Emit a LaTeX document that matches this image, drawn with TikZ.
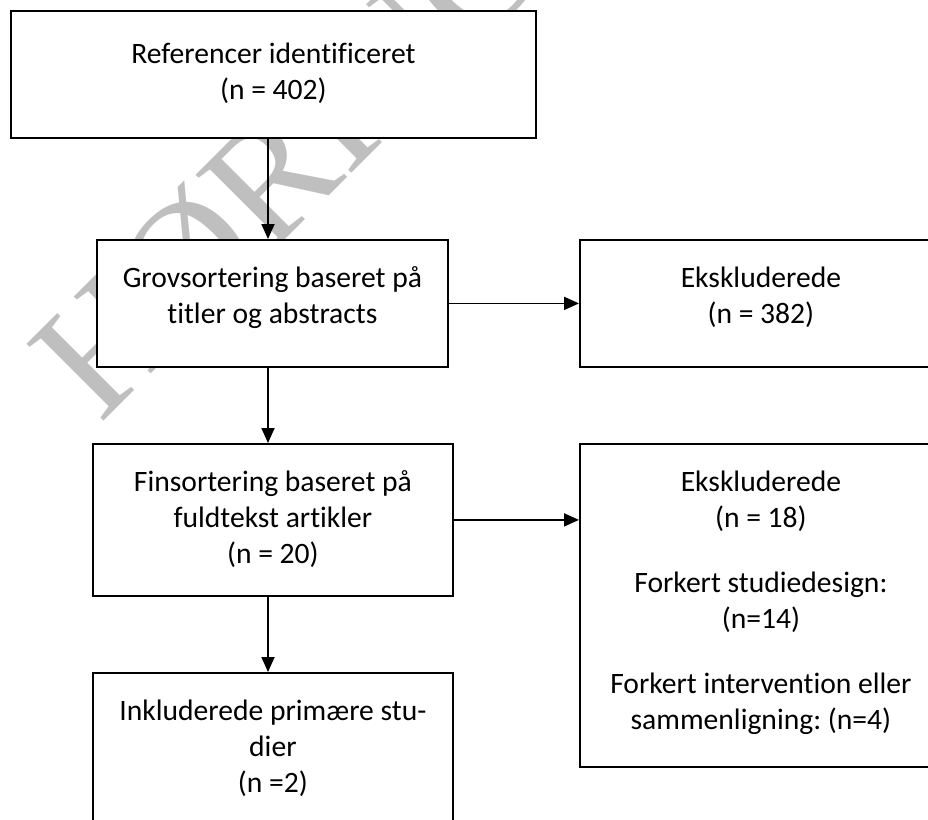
\documentclass[tikz,border=0pt]{standalone}
\usepackage{fontspec}
\setmainfont{Carlito}[Ligatures={NoCommon,NoContextual}]
\newfontfamily\wmfont{Liberation Serif}
\usetikzlibrary{arrows.meta}
\frenchspacing
\begin{document}
\begin{tikzpicture}[x=1pt,y=-1pt,
  box/.style={draw=black,line width=1.8pt,fill=white,inner sep=0pt,anchor=north west},
  txt/.style={align=center,inner sep=0pt,anchor=north,font=\fontsize{29.6}{36}\selectfont},
  arr/.style={line width=1.8pt,-{Triangle[length=15pt,width=13pt]}},
  wm/.style={text=black!25,font=\wmfont\fontsize{166}{166}\selectfont,rotate=45,anchor=base west,inner sep=0pt}]
\useasboundingbox (0,0) rectangle (928,819);
\clip (0,0) rectangle (928,819);
% watermark
\node[wm] (wmark) at (100,425) {HØRING};
% boxes
\node[box,minimum width=525pt,minimum height=127pt] (b1) at (10,10) {};
\node[box,minimum width=351pt,minimum height=127pt] (b2) at (96,239) {};
\node[box,minimum width=362pt,minimum height=127pt] (b3) at (579,239) {};
\node[box,minimum width=360pt,minimum height=152pt] (b4) at (92,443) {};
\node[box,minimum width=360pt,minimum height=180pt] (b5) at (92,672) {};
\node[box,minimum width=362pt,minimum height=323pt] (b6) at (579,443) {};
% texts
\node[txt] (t1) at ([yshift=-27pt]b1.north) {\rule{0pt}{26pt}Referencer identificeret\\(n = 402)};
\node[txt] (t2) at ([yshift=-22pt]b2.north) {\rule{0pt}{26pt}Grovsortering baseret på\\titler og abstracts};
\node[txt] (t3) at ([yshift=-22pt]b3.north) {\rule{0pt}{26pt}Ekskluderede\\(n = 382)};
\node[txt] (t4) at ([yshift=-22pt]b4.north) {\rule{0pt}{26pt}Finsortering baseret på\\fuldtekst artikler\\(n = 20)};
\node[txt] (t5) at ([yshift=-22pt]b5.north) {\rule{0pt}{26pt}Inkluderede primære stu-\\dier\\(n =2)};
\node[txt] (t6) at ([yshift=-22pt]b6.north) {\rule{0pt}{26pt}Ekskluderede\\(n = 18)\\[29pt]Forkert studiedesign:\\(n=14)\\[29pt]Forkert intervention eller\\sammenligning: (n=4)};
% connectors
\coordinate (ax) at (268,0);
\draw[arr] (b1.south -| ax) -- (b2.north -| ax);
\draw[arr] (b2.south -| ax) -- (b4.north -| ax);
\draw[arr] (b4.south -| ax) -- (b5.north -| ax);
\draw[arr] (b2.east) -- (b3.west);
\draw[arr] (b4.east) -- (b6.west |- b4.east);
\end{tikzpicture}
\end{document}
